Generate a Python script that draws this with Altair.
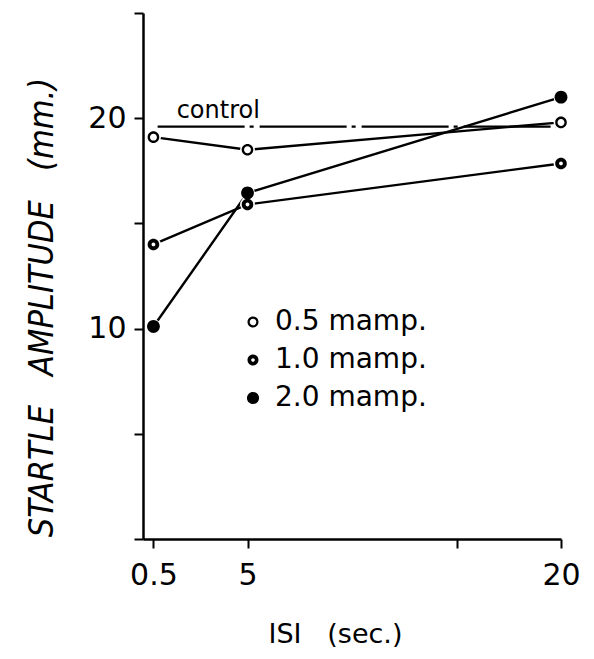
import altair as alt
import pandas as pd

# ---- data ----
isi = [0.5, 5, 20]
levels = ["0.5 mamp.", "1.0 mamp.", "2.0 mamp."]
amp_05 = [19.1, 18.5, 19.8]
amp_10 = [14.0, 15.9, 17.85]
amp_20 = [10.1, 16.45, 21.0]
control_x = [0.7, 19.8]
control_y = [19.6, 19.6]
control_text = ["control"]
control_text_x = [3.6]
control_text_y = [20.0]
x_ticks = [0.5, 5, 15, 20]
y_ticks = [0, 5, 10, 15, 20, 25]

# marker glyphs: thin ring, thick ring, solid disc (unit-box SVG paths)
RING_THIN = "M-1,0A1,1 0 1,1 1,0A1,1 0 1,1 -1,0Z M-0.6,0A0.6,0.6 0 1,0 0.6,0A0.6,0.6 0 1,0 -0.6,0Z"
RING_THICK = "M-1,0A1,1 0 1,1 1,0A1,1 0 1,1 -1,0Z M-0.33,0A0.33,0.33 0 1,0 0.33,0A0.33,0.33 0 1,0 -0.33,0Z"
DISC = "M-1.1,0A1.1,1.1 0 1,1 1.1,0A1.1,1.1 0 1,1 -1.1,0Z"
marker_paths = [RING_THIN, RING_THICK, DISC]

rows = []
for lvl, vals in zip(levels, [amp_05, amp_10, amp_20]):
    for xv, yv in zip(isi, vals):
        rows.append({"isi": xv, "amp": yv, "level": lvl})
df = pd.DataFrame(rows)
ctrl = pd.DataFrame({"isi": control_x, "amp": control_y})
ctrl_lab = pd.DataFrame({"isi": control_text_x, "amp": control_text_y, "text": control_text})

FONT = "DejaVu Sans"
TITLE_FONT = "Liberation Sans Narrow, DejaVu Sans Condensed, DejaVu Sans"

x_enc = alt.X(
    "isi:Q",
    scale=alt.Scale(domain=[0, 20], nice=False, zero=False),
    axis=alt.Axis(
        values=x_ticks,
        labelExpr="datum.value == 15 ? '' : toString(datum.value)",
        title="ISI\u00a0\u00a0\u00a0(sec.)",
        grid=False,
        domainColor="black", domainWidth=2.5,
        tickColor="black", tickWidth=2, tickSize=9,
        labelFont=FONT, labelFontSize=30, labelColor="black", labelPadding=12,
        labelFlush=False, labelOverlap=False,
        titleFont=FONT, titleFontSize=27, titleFontWeight="normal", titleColor="black",
        titleX=192, titleY=95, titleBaseline="middle", titleAlign="center",
    ),
)
y_enc = alt.Y(
    "amp:Q",
    scale=alt.Scale(domain=[0, 25], nice=False, zero=True),
    axis=alt.Axis(
        values=y_ticks,
        labelExpr="(datum.value == 10 || datum.value == 20) ? datum.label : ''",
        title="STARTLE\u00a0\u00a0\u00a0AMPLITUDE\u00a0\u00a0\u00a0(mm.)",
        grid=False,
        domainColor="black", domainWidth=2.5,
        tickColor="black", tickWidth=2, tickSize=9,
        labelFont=FONT, labelFontSize=30, labelColor="black", labelPadding=8,
        labelFlush=False, labelOverlap=False,
        titleFont=TITLE_FONT, titleFontSize=34, titleFontWeight="normal",
        titleFontStyle="italic", titleColor="black",
        titleX=-101, titleY=294, titleBaseline="middle", titleAlign="center",
        titleAngle=270,
    ),
)

ctrl_line = alt.Chart(ctrl).mark_line(
    color="black", strokeWidth=2.2, strokeDash=[87, 5, 4, 6]
).encode(x=x_enc, y=y_enc)

lines = alt.Chart(df).mark_line(color="black", strokeWidth=2.4).encode(
    x=x_enc, y=y_enc, detail="level:N"
)

# white discs under the markers so connecting lines stop short of them
under = alt.Chart(df).mark_point(
    shape="circle", filled=True, color="white", opacity=1, size=220
).encode(x=x_enc, y=y_enc)

legend = alt.Legend(
    title=None, orient="none", legendX=96, legendY=295,
    labelFont=FONT, labelFontSize=28, labelColor="black",
    labelOffset=8, rowPadding=10, padding=0,
    symbolSize=121, symbolFillColor="black", symbolStrokeWidth=0,
)

points = alt.Chart(df).mark_point(
    filled=True, color="black", opacity=1, size=135, strokeWidth=0
).encode(
    x=x_enc,
    y=y_enc,
    shape=alt.Shape("level:N", scale=alt.Scale(domain=levels, range=marker_paths), legend=legend),
)

label = alt.Chart(ctrl_lab).mark_text(
    font=FONT, fontSize=24, color="black", align="center", baseline="alphabetic"
).encode(x=x_enc, y=y_enc, text="text:N")

chart = alt.layer(ctrl_line, lines, under, points, label).properties(
    width=418, height=526,
    autosize=alt.AutoSizeParams(type="none"),
    padding={"left": 135, "top": 5, "right": 25, "bottom": 112},
    background="white",
).configure_view(stroke=None)

chart.save("out.html", embed_options={"renderer": "svg", "actions": False})
